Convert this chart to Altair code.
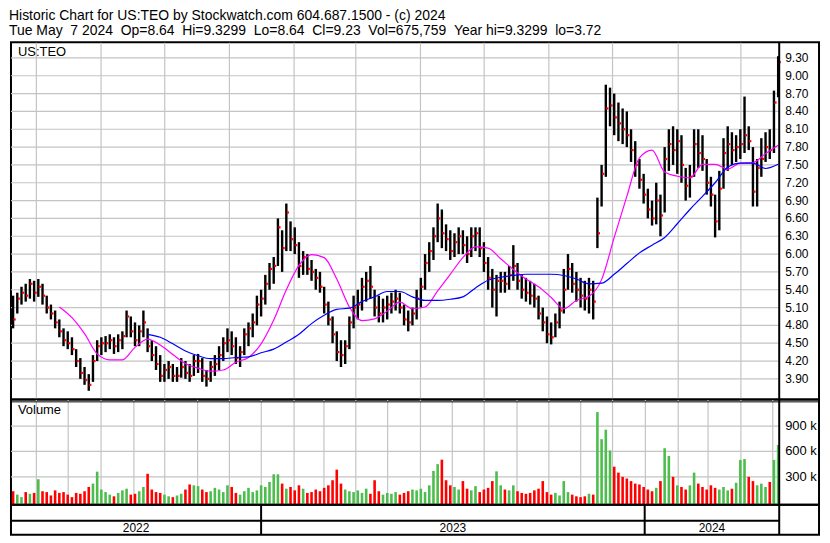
import altair as alt
import pandas as pd

# ---------------- data ----------------
HIGH = [
    5.30, 5.35, 5.45, 5.50, 5.58, 5.55, 5.58, 5.50, 5.30, 5.15,
    5.05, 4.90, 4.75, 4.70, 4.60, 4.40, 4.25, 4.10, 3.98, 4.30,
    4.55, 4.60, 4.62, 4.65, 4.60, 4.65, 4.70, 5.05, 4.95, 4.85,
    4.80, 5.05, 4.75, 4.55, 4.45, 4.30, 4.15, 4.20, 4.15, 4.10,
    4.25, 4.20, 4.15, 4.30, 4.32, 4.25, 4.05, 4.20, 4.30, 4.45,
    4.60, 4.75, 4.70, 4.60, 4.45, 4.75, 4.85, 5.00, 5.30, 5.40,
    5.65, 5.85, 5.95, 6.60, 6.40, 6.85, 6.55, 6.45, 6.20, 6.05,
    6.00, 5.90, 5.75, 5.70, 5.45, 5.20, 4.95, 4.70, 4.55, 4.55,
    4.95, 5.30, 5.40, 5.60, 5.70, 5.80, 5.40, 5.30, 5.25, 5.30,
    5.35, 5.40, 5.35, 5.15, 5.05, 5.10, 5.40, 5.60, 6.00, 6.20,
    6.45, 6.85, 6.75, 6.50, 6.40, 6.35, 6.45, 6.40, 6.30, 6.45,
    6.45, 6.45, 6.20, 5.95, 5.75, 5.65, 5.70, 5.70, 5.80, 6.15,
    5.85, 5.65, 5.60, 5.55, 5.50, 5.30, 5.10, 4.95, 4.85, 5.00,
    5.20, 5.75, 6.00, 5.85, 5.70, 5.60, 5.55, 5.60, 5.55, 6.95,
    7.50, 8.85, 8.80, 8.70, 8.55, 8.45, 8.40, 8.10, 7.90, 7.60,
    7.35, 7.10, 6.90, 7.20, 7.00, 7.80, 8.10, 8.15, 8.10, 8.00,
    7.45, 7.50, 8.10, 8.10, 8.00, 7.60, 7.30, 7.00, 7.40, 7.95,
    8.15, 8.05, 8.00, 8.10, 8.65, 8.15, 7.80, 7.60, 7.95, 8.05,
    8.10, 8.75, 9.33,
]
LOW = [
    4.75, 5.00, 5.15, 5.20, 5.25, 5.20, 5.28, 5.15, 5.00, 4.90,
    4.75, 4.60, 4.45, 4.40, 4.30, 4.10, 3.90, 3.80, 3.70, 3.85,
    4.20, 4.30, 4.35, 4.40, 4.32, 4.35, 4.40, 4.60, 4.60, 4.45,
    4.45, 4.60, 4.35, 4.20, 4.05, 3.85, 3.85, 3.90, 3.85, 3.85,
    3.92, 3.90, 3.85, 3.95, 4.00, 3.85, 3.77, 3.85, 3.95, 4.05,
    4.20, 4.35, 4.30, 4.15, 4.10, 4.30, 4.45, 4.60, 4.80, 4.95,
    5.15, 5.40, 5.50, 5.80, 5.70, 6.05, 6.05, 6.00, 5.60, 5.65,
    5.65, 5.55, 5.40, 5.35, 5.00, 4.80, 4.50, 4.20, 4.10, 4.15,
    4.40, 4.75, 4.90, 5.05, 5.20, 5.25, 4.95, 4.85, 4.85, 4.90,
    5.00, 5.05, 5.00, 4.80, 4.70, 4.80, 4.90, 5.10, 5.40, 5.70,
    5.90, 6.20, 6.10, 6.05, 5.90, 5.95, 6.00, 6.00, 5.85, 5.95,
    6.05, 5.95, 5.70, 5.40, 5.10, 4.95, 5.35, 5.35, 5.40, 5.55,
    5.40, 5.25, 5.20, 5.15, 5.10, 4.90, 4.70, 4.50, 4.48, 4.60,
    4.75, 5.00, 5.40, 5.35, 5.20, 5.10, 5.05, 5.00, 4.90, 6.10,
    6.80, 7.30, 8.15, 8.00, 7.90, 7.85, 7.80, 7.55, 7.30, 7.10,
    6.85, 6.60, 6.48, 6.50, 6.30, 6.70, 7.40, 7.50, 7.35, 7.20,
    6.90, 6.95, 7.30, 7.45, 7.40, 7.00, 6.80, 6.28, 6.40, 7.10,
    7.40, 7.50, 7.55, 7.60, 7.70, 7.75, 6.80, 6.80, 7.30, 7.55,
    7.60, 7.70, 8.64,
]
CLOSE = [
    4.90, 5.25, 5.35, 5.30, 5.50, 5.35, 5.45, 5.30, 5.10, 5.00,
    4.85, 4.70, 4.55, 4.50, 4.40, 4.20, 4.00, 3.88, 3.80, 4.20,
    4.45, 4.50, 4.50, 4.55, 4.45, 4.55, 4.62, 4.95, 4.70, 4.55,
    4.70, 4.85, 4.45, 4.30, 4.15, 3.95, 4.05, 4.10, 3.95, 3.95,
    4.10, 4.00, 3.95, 4.20, 4.20, 3.95, 3.90, 4.10, 4.15, 4.30,
    4.50, 4.55, 4.45, 4.25, 4.35, 4.65, 4.75, 4.85, 5.15, 5.25,
    5.50, 5.75, 5.80, 6.45, 6.10, 6.70, 6.25, 6.15, 5.80, 5.95,
    5.75, 5.70, 5.60, 5.45, 5.15, 4.90, 4.65, 4.35, 4.30, 4.45,
    4.85, 5.10, 5.15, 5.45, 5.55, 5.45, 5.10, 5.00, 5.10, 5.15,
    5.20, 5.25, 5.10, 4.90, 4.85, 5.00, 5.25, 5.45, 5.85, 6.05,
    6.30, 6.60, 6.35, 6.25, 6.05, 6.20, 6.30, 6.15, 6.00, 6.30,
    6.35, 6.10, 5.85, 5.60, 5.40, 5.55, 5.55, 5.50, 5.65, 5.80,
    5.55, 5.40, 5.35, 5.30, 5.25, 5.00, 4.85, 4.65, 4.60, 4.85,
    5.05, 5.40, 5.75, 5.50, 5.40, 5.30, 5.25, 5.40, 5.20, 6.35,
    7.35, 8.45, 8.50, 8.30, 8.20, 8.10, 8.00, 7.75, 7.50, 7.25,
    7.00, 6.75, 6.60, 6.90, 6.65, 7.60, 7.85, 7.75, 7.90, 7.50,
    7.15, 7.30, 7.85, 7.70, 7.60, 7.20, 7.00, 6.55, 7.10, 7.70,
    7.85, 7.75, 7.80, 7.85, 8.00, 7.90, 7.05, 7.45, 7.60, 7.80,
    7.75, 8.55, 9.23,
]
VOLUME_K = [
    130, 90, 60, 120, 100, 110, 272, 130, 120, 80,
    140, 110, 120, 90, 60, 110, 100, 130, 180, 220,
    361, 150, 120, 90, 70, 110, 140, 160, 90, 100,
    130, 180, 336, 150, 120, 110, 90, 70, 60, 80,
    100, 150, 210, 200, 190, 150, 120, 130, 170, 150,
    120, 200, 180, 110, 90, 130, 170, 120, 140, 200,
    180, 240, 330, 330, 220, 160, 180, 140, 200, 160,
    110, 120, 150, 130, 170, 200, 260, 385, 220, 150,
    130, 120, 140, 110, 160, 100, 260, 130, 90, 110,
    100, 120, 90, 110, 130, 150, 140, 160, 120, 200,
    370, 450, 503, 260, 200, 180, 150, 250, 160, 140,
    190, 120, 150, 170, 250, 365, 200, 150, 140, 200,
    130, 110, 100, 110, 140, 160, 250, 120, 90, 110,
    80, 250, 120, 90, 70, 60, 70, 100, 90, 1065,
    745, 857, 611, 420, 350, 300, 280, 250, 220, 210,
    180, 150, 130, 170, 250, 638, 546, 300, 200, 180,
    150, 200, 350, 220, 180, 150, 200, 170, 150, 180,
    140, 160, 230, 500, 510, 300, 250, 200, 220, 180,
    240, 500, 676,
]
# 50-day (magenta) and 200-day (blue) moving averages, every third bar
MA50 = [
    5.11, 4.93, 4.66, 4.32, 4.22, 4.22, 4.43, 4.57, 4.47, 4.31,
    4.16, 4.08, 4.03, 4.05, 4.18, 4.26, 4.49, 4.89, 5.40, 5.81,
    5.99, 5.94, 5.58, 5.11, 4.88, 4.91, 5.04, 5.19, 5.08, 5.11,
    5.38, 5.66, 5.94, 6.12, 6.10, 5.92, 5.74, 5.58, 5.45, 5.27,
    5.08, 5.22, 5.29, 5.57, 6.28, 6.97, 7.62, 7.75, 7.38, 7.31,
    7.28, 7.51, 7.51, 7.43, 7.53, 7.54, 7.69, 7.83,
]
MA200 = [
    4.65, 4.60, 4.49, 4.37, 4.29, 4.24, 4.24, 4.26, 4.27, 4.34,
    4.40, 4.52, 4.65, 4.83, 4.97, 5.07, 5.09, 5.20, 5.28, 5.37,
    5.37, 5.28, 5.22, 5.22, 5.24, 5.28, 5.43, 5.56, 5.61, 5.64,
    5.66, 5.66, 5.66, 5.64, 5.58, 5.50, 5.51, 5.66, 5.84, 6.02,
    6.15, 6.28, 6.51, 6.75, 6.97, 7.20, 7.46, 7.53, 7.53, 7.44,
    7.51,
]
PRICE_TICKS = [3.90, 4.20, 4.50, 4.80, 5.10, 5.40, 5.70, 6.00, 6.30, 6.60,
               6.90, 7.20, 7.50, 7.80, 8.10, 8.40, 8.70, 9.00, 9.30]
VOLUME_TICKS = [300000, 600000, 900000]
VOLUME_LABELS = ["300 k", "600 k", "900 k"]
YEARS = ["2022", "2023", "2024"]
SYMBOL = "US:TEO"
PANEL2 = "Volume"
NB = "\u00a0"
TITLE_1 = "Historic Chart for US:TEO by Stockwatch.com 604.687.1500 - (c) 2024"
TITLE_2 = ("Tue May " + NB + "7 2024 " + NB + "Op=8.64 " + NB + "Hi=9.3299 " + NB +
           "Lo=8.64 " + NB + "Cl=9.23 " + NB + "Vol=675,759 " + NB +
           "Year hi=9.3299 " + NB + "lo=3.72")

# ---------------- tables ----------------
DATES = pd.date_range(end="2024-05-07", periods=len(CLOSE), freq="4D")
df = pd.DataFrame({"date": DATES, "high": HIGH, "low": LOW, "close": CLOSE,
                   "volume": [v * 1000 for v in VOLUME_K]})
prev = df["close"].shift(1)
df["dir"] = ["up" if (p == p and c >= p) else "down" for c, p in zip(df["close"], prev)]
ma50_df = pd.DataFrame({"date": DATES[11::3], "value": MA50})
ma200_df = pd.DataFrame({"date": DATES[32::3], "value": MA200})

START = pd.Timestamp("2022-05-08")
END = pd.Timestamp("2024-05-08")
bounds = [START, pd.Timestamp("2023-01-01"), pd.Timestamp("2024-01-01"), END]
year_df = pd.DataFrame({"year": YEARS,
                        "mid": [bounds[k] + (bounds[k + 1] - bounds[k]) / 2 for k in range(3)]})
yb_df = pd.DataFrame({"d": bounds[1:3]})
one = pd.DataFrame({"a": [0]})

# ---------------- style ----------------
FONT = "Liberation Sans"
W, COL = 772, 40
H1, H2, H3 = 359, 106, 30
GRID = "#C4C4C4"
GREEN = "#4DBD4D"
RED = "#FF0000"

x_scale = alt.Scale(domain=[alt.DateTime(year=2022, month=5, date=8),
                            alt.DateTime(year=2024, month=5, date=8)], range=[0, W])
price_scale = alt.Scale(domain=[3.555, 9.566], nice=False, zero=False)
vol_scale = alt.Scale(domain=[-31000, 1215000], nice=False, zero=False)

month_values = []
for y, m in [(2022, m) for m in range(6, 13)] + [(2023, m) for m in range(1, 13)] + [(2024, m) for m in range(1, 6)]:
    month_values.append(alt.DateTime(year=y, month=m, date=1))

month_axis = alt.Axis(values=month_values, grid=True, labels=False, ticks=False, domain=False,
                      title=None, gridColor=GRID, gridWidth=1.2)


def divider(h):
    return alt.Chart(one).mark_rule(color="black", strokeWidth=2).encode(
        x=alt.value(W), y=alt.value(0), y2=alt.value(h))


# ---------------- price panel ----------------
p_grid = alt.Chart(pd.DataFrame({"p": PRICE_TICKS})).mark_rule(color=GRID, strokeWidth=1.2).encode(
    y=alt.Y("p:Q", scale=price_scale, axis=None), x=alt.value(0), x2=alt.value(W))
base = alt.Chart(df)
ohlc = base.mark_rule(color="black", strokeWidth=2.4).encode(
    x=alt.X("date:T", scale=x_scale, axis=month_axis),
    y=alt.Y("low:Q"),
    y2="high:Q",
)
closes = base.mark_square(color=RED, size=5, opacity=1, xOffset=1.5).encode(
    x="date:T", y="close:Q")
ma50 = alt.Chart(ma50_df).mark_line(color="#FF00FF", strokeWidth=1.2, interpolate="monotone").encode(
    x="date:T", y="value:Q")
ma200 = alt.Chart(ma200_df).mark_line(color="#0000FF", strokeWidth=1.2, interpolate="monotone").encode(
    x="date:T", y="value:Q")
sym = alt.Chart(pd.DataFrame({"t": [SYMBOL]})).mark_text(
    align="left", baseline="top", font=FONT, fontSize=13, color="black").encode(
    x=alt.value(7), y=alt.value(4), text="t:N")
p_labels = alt.Chart(pd.DataFrame({"p": PRICE_TICKS})).mark_text(
    align="left", baseline="middle", font=FONT, fontSize=12, color="black").encode(
    y="p:Q", x=alt.value(W + 6), text=alt.Text("p:Q", format=".2f"))
price_panel = alt.layer(p_grid, ohlc, closes, ma50, ma200, sym, p_labels, divider(H1)).properties(
    width=W + COL, height=H1)

# ---------------- volume panel ----------------
v_grid = alt.Chart(pd.DataFrame({"v": VOLUME_TICKS})).mark_rule(color=GRID, strokeWidth=1.2).encode(
    y=alt.Y("v:Q", scale=vol_scale, axis=None), x=alt.value(0), x2=alt.value(W))
vol_bars = alt.Chart(df).mark_rule(strokeWidth=2.6).encode(
    x=alt.X("date:T", scale=x_scale, axis=month_axis),
    y=alt.Y("volume:Q"),
    y2=alt.value(H2),
    color=alt.Color("dir:N", scale=alt.Scale(domain=["up", "down"], range=[GREEN, RED]), legend=None),
)
vol_lbl = alt.Chart(pd.DataFrame({"t": [PANEL2]})).mark_text(
    align="left", baseline="top", font=FONT, fontSize=13, color="black").encode(
    x=alt.value(7), y=alt.value(5), text="t:N")
v_labels = alt.Chart(pd.DataFrame({"v": VOLUME_TICKS, "label": VOLUME_LABELS})).mark_text(
    align="left", baseline="middle", font=FONT, fontSize=13, color="black").encode(
    y="v:Q", x=alt.value(W + 6), text="label:N")
top_thin = alt.Chart(one).mark_rule(color="black", strokeWidth=1).encode(
    x=alt.value(0), x2=alt.value(W + COL), y=alt.value(2.5))
vol_panel = alt.layer(v_grid, vol_bars, vol_lbl, v_labels, top_thin, divider(H2)).properties(
    width=W + COL, height=H2)

# ---------------- year strip ----------------
year_rules = alt.Chart(yb_df).mark_rule(color="black", strokeWidth=2).encode(
    x=alt.X("d:T", scale=x_scale, axis=None), y=alt.value(0), y2=alt.value(H3))
mid_line = alt.Chart(one).mark_rule(color="black", strokeWidth=2).encode(
    x=alt.value(0), x2=alt.value(W), y=alt.value(16))
year_txt = alt.Chart(year_df).mark_text(
    align="center", baseline="middle", font=FONT, fontSize=12, color="black").encode(
    x="mid:T", y=alt.value(23.5), text="year:N")
year_strip = alt.layer(year_rules, mid_line, year_txt, divider(H3)).properties(
    width=W + COL, height=H3)

chart = alt.vconcat(
    price_panel, vol_panel, year_strip, spacing=0, bounds="flush"
).properties(
    title=alt.TitleParams(text=[TITLE_1, TITLE_2], anchor="start", font=FONT, fontSize=14,
                          fontWeight="normal", color="black", lineHeight=15, offset=2, dx=0),
    padding={"left": 1, "top": 0, "right": 1, "bottom": 1},
    background="white",
).configure_view(
    stroke="black", strokeWidth=2
).configure_axis(
    minExtent=0, maxExtent=0
)

chart.save("out.html", embed_options={"renderer": "svg", "actions": False})
